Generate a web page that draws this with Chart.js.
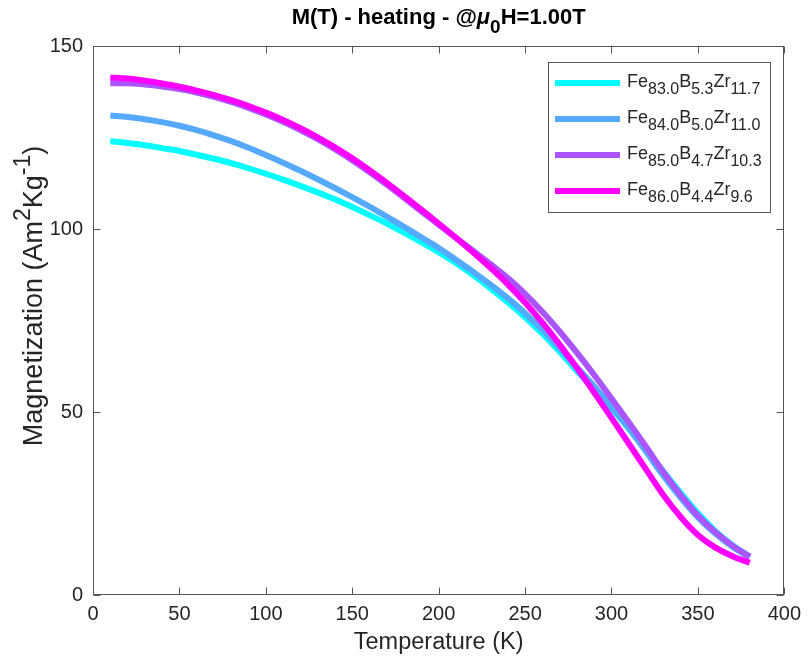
<!DOCTYPE html>
<html>
<head>
<meta charset="utf-8">
<script src="https://cdn.jsdelivr.net/npm/chart.js@4.4.0/dist/chart.umd.min.js"></script>
<style>
  html, body { margin: 0; padding: 0; background: #fff; }
  #wrap { width: 808px; height: 663px; }
</style>
</head>
<body>
<div id="wrap"><canvas id="myChart" width="808" height="663"></canvas></div>
<script>
// temperature (K)
const temps = [10, 20, 30, 40, 50, 60, 70, 80, 90, 100, 110, 120, 130, 140, 150, 160, 170, 180, 190,
  200, 210, 220, 230, 240, 250, 260, 270, 280, 290, 300, 310, 320, 330, 340, 350, 360, 370, 380];

// magnetization (Am2/kg)
const fe83 = [124.0, 123.5, 122.9, 122.1, 121.3, 120.3, 119.2, 118.0, 116.6, 115.1, 113.5, 111.8, 110.0,
  108.1, 106.0, 103.8, 101.5, 99.0, 96.4, 93.7, 90.7, 87.4, 83.8, 80.0, 75.9, 71.4, 66.5, 61.2, 56.2,
  51.0, 45.5, 39.7, 33.8, 27.9, 22.3, 17.5, 13.6, 10.5];
const fe84 = [131.0, 130.6, 130.0, 129.2, 128.2, 127.0, 125.6, 124.0, 122.2, 120.2, 118.1, 115.9, 113.6,
  111.2, 108.7, 106.1, 103.4, 100.6, 97.7, 94.8, 91.6, 88.3, 84.8, 81.1, 77.0, 72.4, 67.4, 62.2, 57.0,
  51.5, 45.6, 39.2, 32.6, 26.6, 21.2, 16.8, 13.2, 10.3];
const fe85 = [139.8, 139.8, 139.5, 138.95, 138.25, 137.3, 136.1, 134.7, 133.1, 131.3, 129.3, 127.05, 124.55,
  121.8, 118.8, 115.55, 112.1, 108.5, 104.8, 101.2, 97.6, 94.0, 90.4, 86.6, 82.3, 77.4, 72.0, 66.2, 60.1,
  53.7, 47.2, 40.5, 33.6, 27.3, 21.7, 17.2, 13.5, 10.5];
const fe86 = [141.4, 141.1, 140.5, 139.75, 138.85, 137.8, 136.6, 135.2, 133.6, 131.8, 129.8, 127.55, 125.05,
  122.3, 119.3, 116.05, 112.6, 109.0, 105.3, 101.5, 97.6, 93.6, 89.4, 84.9, 79.9, 74.4, 68.4, 62.0, 55.3,
  48.4, 41.4, 34.3, 27.3, 21.3, 16.4, 13.0, 10.6, 8.8];

const xTicks = [0, 50, 100, 150, 200, 250, 300, 350, 400];
const yTicks = [0, 50, 100, 150];

// legend labels as [text, mode] (mode 1 = subscript)
const names = [
  [["Fe", 0], ["83.0", 1], ["B", 0], ["5.3", 1], ["Zr", 0], ["11.7", 1]],
  [["Fe", 0], ["84.0", 1], ["B", 0], ["5.0", 1], ["Zr", 0], ["11.0", 1]],
  [["Fe", 0], ["85.0", 1], ["B", 0], ["4.7", 1], ["Zr", 0], ["10.3", 1]],
  [["Fe", 0], ["86.0", 1], ["B", 0], ["4.4", 1], ["Zr", 0], ["9.6", 1]],
];
const colors = ["#00ffff", "#55aaff", "#aa55ff", "#ff00ff"];
const allSeries = [fe83, fe84, fe85, fe86];

const FONT = "'Liberation Sans', Arial, Helvetica, sans-serif";
const textColor = "#262626";
const axisColor = "#555555";

Chart.defaults.font.family = FONT;
Chart.defaults.color = textColor;

// mode: 0 normal, 1 subscript, 2 superscript, 3 italic
function drawRich(ctx, parts, x, y, size, bold, align, subScale) {
  const w = bold ? "bold " : "";
  const small = Math.round(size * (subScale || 0.85));
  const fontFor = (m) => {
    if (m === 1 || m === 2) return w + small + "px " + FONT;
    if (m === 3) return "italic " + w + size + "px " + FONT;
    return w + size + "px " + FONT;
  };
  let total = 0;
  parts.forEach(([t, m]) => { ctx.font = fontFor(m); total += ctx.measureText(t).width; });
  let cx = align === "center" ? x - total / 2 : x;
  ctx.textBaseline = "alphabetic";
  ctx.textAlign = "left";
  parts.forEach(([t, m]) => {
    ctx.font = fontFor(m);
    let dy = 0;
    if (m === 1) dy = size * 0.4;
    if (m === 2) dy = -size * 0.45;
    ctx.fillText(t, cx, y + dy);
    cx += ctx.measureText(t).width;
  });
}

const frame = {
  id: "frame",
  afterDraw(chart) {
    const { ctx, chartArea: a, scales } = chart;
    ctx.save();
    ctx.strokeStyle = axisColor;
    ctx.lineWidth = 1;
    const L = Math.round(a.left) + 0.5, R = Math.round(a.right) - 0.5;
    const T = Math.round(a.top) + 0.5, B = Math.round(a.bottom) - 0.5;
    ctx.strokeRect(L, T, R - L, B - T);
    ctx.beginPath();
    xTicks.forEach((v) => {
      const px = Math.round(scales.x.getPixelForValue(v)) + 0.5;
      ctx.moveTo(px, B); ctx.lineTo(px, B - 7);
      ctx.moveTo(px, T); ctx.lineTo(px, T + 7);
    });
    yTicks.forEach((v) => {
      const py = Math.round(scales.y.getPixelForValue(v)) + 0.5;
      ctx.moveTo(L, py); ctx.lineTo(L + 7, py);
      ctx.moveTo(R, py); ctx.lineTo(R - 7, py);
    });
    ctx.stroke();

    // title
    ctx.fillStyle = "#000";
    drawRich(ctx, [["M(T) - heating - @", 0], ["\u03bc", 3], ["0", 1], ["H=1.00T", 0]],
      (a.left + a.right) / 2, 24, 22, true, "center");

    ctx.fillStyle = textColor;
    // axis titles
    drawRich(ctx, [["Temperature (K)", 0]], (a.left + a.right) / 2, 649, 23.5, false, "center");
    ctx.save();
    ctx.translate(42, 296);
    ctx.rotate(-Math.PI / 2);
    drawRich(ctx, [["Magnetization (Am", 0], ["2", 2], ["Kg", 0], ["-1", 2], [")", 0]], 0, 0, 27, false, "center");
    ctx.restore();

    // legend
    const lx = 548.5, ly = 62.5, lw = 222, lh = 150;
    ctx.fillStyle = "#fff";
    ctx.fillRect(lx, ly, lw, lh);
    ctx.strokeStyle = axisColor;
    ctx.lineWidth = 1;
    ctx.strokeRect(lx, ly, lw, lh);
    names.forEach((parts, i) => {
      const cy = 83 + i * 36;
      ctx.strokeStyle = colors[i];
      ctx.lineWidth = 6;
      ctx.beginPath();
      ctx.moveTo(555, cy); ctx.lineTo(620, cy);
      ctx.stroke();
      ctx.fillStyle = textColor;
      drawRich(ctx, parts, 627, cy + 4, 18, false, "left", 0.88);
    });
    ctx.restore();
  },
};

const datasets = allSeries.map((vals, i) => ({
  label: names[i].map((p) => p[0]).join(""),
  data: temps.map((t, j) => ({ x: t, y: vals[j] })),
  borderColor: colors[i],
  backgroundColor: colors[i],
  borderWidth: 6,
  pointRadius: 0,
  cubicInterpolationMode: "monotone",
  order: 4 - i,
}));

new Chart(document.getElementById("myChart"), {
  type: "line",
  data: { datasets },
  options: {
    responsive: false,
    animation: false,
    devicePixelRatio: 1,
    layout: { padding: { top: 46, right: 18, left: 0, bottom: 0 } },
    plugins: { legend: { display: false }, title: { display: false }, tooltip: { enabled: false } },
    scales: {
      x: {
        type: "linear",
        min: 0,
        max: 400,
        afterFit: (s) => { s.height = 68; },
        afterBuildTicks: (s) => { s.ticks = xTicks.map((v) => ({ value: v })); },
        grid: { display: false, drawTicks: false },
        border: { display: false },
        ticks: { font: { size: 20 }, color: textColor, padding: 7, maxRotation: 0 },
      },
      y: {
        type: "linear",
        min: 0,
        max: 150,
        afterFit: (s) => { s.width = 93; },
        afterBuildTicks: (s) => { s.ticks = yTicks.map((v) => ({ value: v })); },
        grid: { display: false, drawTicks: false },
        border: { display: false },
        ticks: { font: { size: 20 }, color: textColor, padding: 10 },
      },
    },
  },
  plugins: [frame],
});
</script>
</body>
</html>
